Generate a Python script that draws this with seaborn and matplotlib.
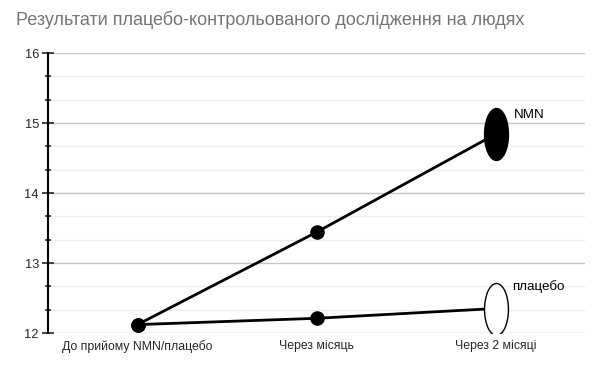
import numpy as np
import pandas as pd
import matplotlib
matplotlib.use("Agg")
import matplotlib.pyplot as plt
import seaborn as sns
from matplotlib.path import Path
from matplotlib.ticker import MultipleLocator

# Data
stages = ["До прийому NMN/плацебо", "Через місяць", "Через 2 місяці"]
nmn = [12.12, 13.44, 14.84]
placebo = [12.12, 12.21, 12.35]
groups = ["NMN", "плацебо"]

df = pd.DataFrame({
    "stage": stages * 2,
    "value": nmn + placebo,
    "group": [groups[0]] * 3 + [groups[1]] * 3,
    "pos": list(range(3)) * 2,
})

sns.set_style("white")
plt.rcParams["font.family"] = ["Liberation Sans", "DejaVu Sans"]

fig = plt.figure(figsize=(5.99, 3.68), dpi=100)
ax = fig.add_axes([48 / 599, 35 / 368, 537 / 599, 280 / 368])

# lines
sns.lineplot(data=df, x="pos", y="value", hue="group",
             palette={"NMN": "black", "плацебо": "black"},
             linewidth=2, legend=False, ax=ax, zorder=3)

# round markers for the first two stages
sns.scatterplot(data=df[df["pos"] < 2], x="pos", y="value", color="black",
                s=110, edgecolor="black", linewidth=0, legend=False, ax=ax, zorder=4)

# tall ellipse markers at the last stage
circ = Path.unit_circle()
ellipse = Path(circ.vertices * np.array([0.46, 1.0]), circ.codes)
last = df[df["pos"] == 2]
for g, fc in zip(groups, ["black", "white"]):
    sub = last[last["group"] == g]
    sns.scatterplot(data=sub, x="pos", y="value", marker=ellipse, s=1400,
                    color=fc, edgecolor="black", linewidth=1, legend=False,
                    ax=ax, zorder=5)

# labels next to the ellipses
for g, off in zip(groups, [(18, 19), (17, 22)]):
    v = last[last["group"] == g]["value"].iloc[0]
    ax.annotate(g, (2, v), xytext=off, textcoords="offset pixels",
                fontsize=9.6, ha="left", va="center", color="black")

ax.set_xlim(-0.5, 2.5)
ax.set_ylim(12, 16)
ax.set_xticks(range(3))
ax.set_xticklabels(stages, fontsize=8.8)
ax.yaxis.set_major_locator(MultipleLocator(1))
ax.yaxis.set_minor_locator(MultipleLocator(1 / 3))
ax.tick_params(axis="y", which="major", direction="inout", length=9, width=1.2,
               labelsize=9.3, pad=2, left=True)
ax.tick_params(axis="y", which="minor", direction="inout", length=5, width=1.2, left=True)
ax.tick_params(axis="x", length=0, pad=5)
ax.grid(axis="y", which="major", color="#c4c4c4", linewidth=1)
ax.grid(axis="y", which="minor", color="#ededed", linewidth=1)
ax.set_axisbelow(True)
for s in ["top", "right", "bottom"]:
    ax.spines[s].set_visible(False)
ax.spines["left"].set_color("black")
ax.spines["left"].set_linewidth(1.5)
ax.set_xlabel("")
ax.set_ylabel("")

fig.text(16 / 599, 1 - 20 / 368, "Результати плацебо-контрольованого дослідження на людях",
         fontsize=13, color="#757575", ha="left", va="center")

fig.savefig("out.png", dpi=100)
